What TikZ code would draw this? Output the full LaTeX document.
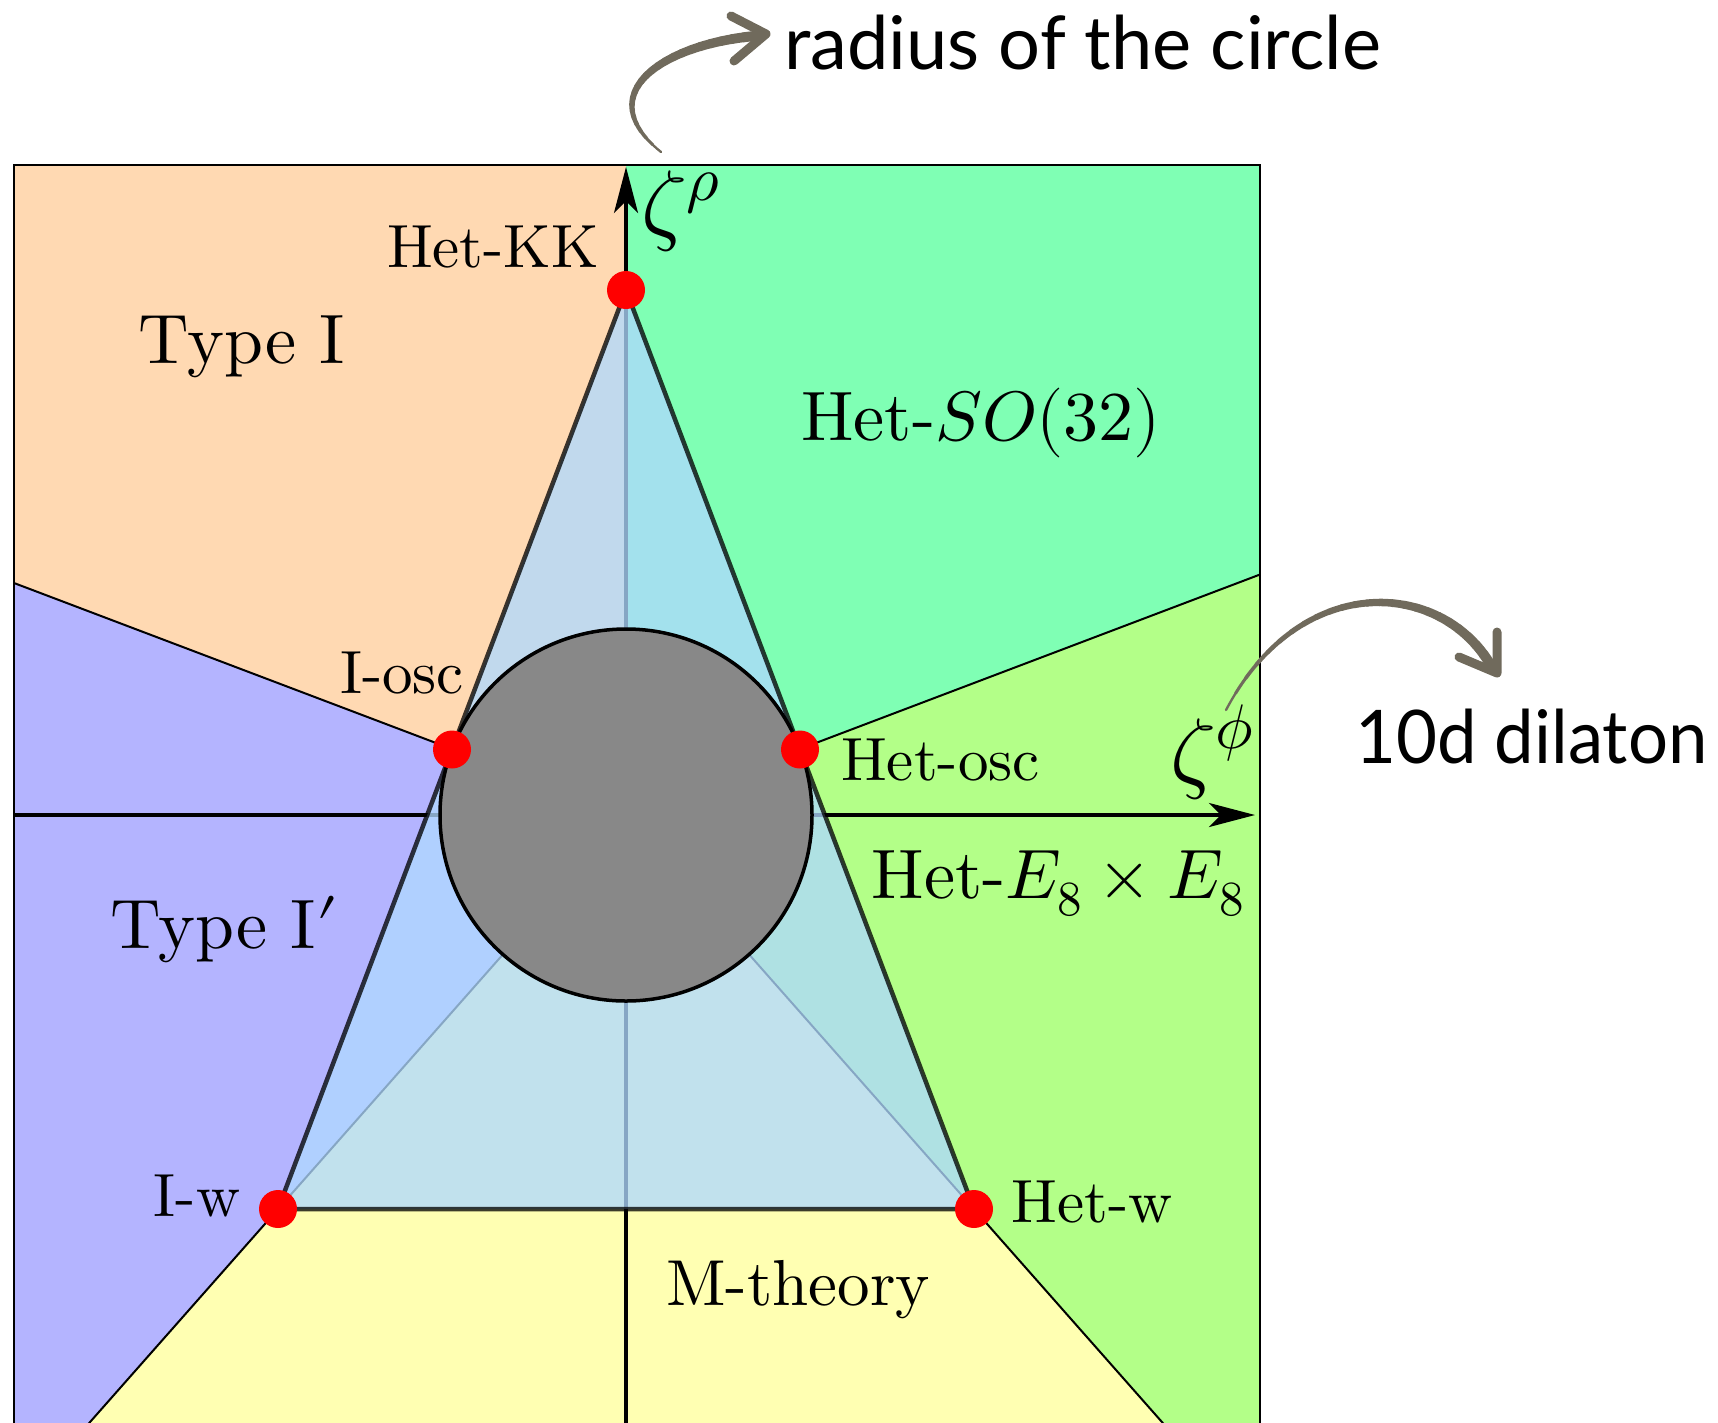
\documentclass[tikz,border=0pt]{standalone}
\usepackage{fontspec}
\usepackage{unicode-math}
\setmainfont{lmroman10-regular.otf}
\setmathfont{Latin Modern Math}
\newfontfamily\gillfont{Lato}
\usetikzlibrary{arrows.meta}
\definecolor{peach}{RGB}{255,217,178}
\definecolor{mint}{RGB}{127,255,180}
\definecolor{lav}{RGB}{180,180,255}
\definecolor{limegr}{RGB}{179,255,136}
\definecolor{lyel}{RGB}{255,255,178}
\definecolor{trifill}{RGB}{175,217,255}
\definecolor{brush}{RGB}{112,106,92}
\definecolor{circgray}{RGB}{136,136,136}
\newcommand\regfont{\fontsize{70}{84}\selectfont}
\newcommand\lblfont{\fontsize{61}{73}\selectfont}
\newcommand\mthfont{\fontsize{65}{78}\selectfont}
\newcommand\zetafont{\fontsize{90}{100}\selectfont}
\newcommand\notefont{\gillfont\fontsize{74}{88}\selectfont}
\newcommand\brushcurve[5]{%
  \foreach \i in {0,...,23}{%
    \pgfmathsetmacro\ta{\i/24}%
    \pgfmathsetmacro\tb{(\i+1)/24}%
    \pgfmathsetmacro\wd{#5*(0.1+0.9*(\tb)^0.6)}%
    \pgfsetlinewidth{\wd pt}%
    \pgfsetroundcap
    \pgfsetstrokecolor{brush}%
    \pgfpathcurvebetweentime{\ta}{\tb}{\pgfpointanchor{#1}{center}}{\pgfpointanchor{#2}{center}}{\pgfpointanchor{#3}{center}}{\pgfpointanchor{#4}{center}}%
    \pgfusepath{stroke}%
  }}
\begin{document}
\begin{tikzpicture}[x=1pt,y=-1pt,
  raybound/.style={line width=2pt},
  axisarrow/.style={line width=3.5pt,-{Stealth[length=46pt,width=24pt,inset=12pt]}},
  dot/.style={circle,fill=red,minimum size=38pt,inner sep=0pt},
  lbl/.style={inner sep=0pt,font=\lblfont},
  reglbl/.style={inner sep=0pt,font=\regfont},
  chevron/.style={draw=brush,line width=9pt,line cap=round,line join=round}]
\useasboundingbox (0,0) rectangle (1718,1422);
\clip (0,0) rectangle (1718,1422);
% key points
\coordinate (O) at (626,815);
\coordinate (K) at (626,290);
\coordinate (L) at (278,1209);
\coordinate (R) at (974,1209);
\coordinate (Lm) at (452,749.5);
\coordinate (Rm) at (800,749.5);
\coordinate (top) at (626,165);
\coordinate (TL) at (14,165);
\coordinate (TR) at (1260,165);
\coordinate (BL) at (14,1430);
\coordinate (BR) at (1260,1430);
\coordinate (eL) at (14,583);
\coordinate (eR) at (1260,574.5);
\coordinate (bL) at (83,1430);
\coordinate (bR) at (1169,1430);
\coordinate (bot) at (626,1430);
\coordinate (axL) at (14,815);
\coordinate (axR) at (1255,815);
\coordinate (axT) at (626,167);
% regions
\fill[peach] (O) -- (top) -- (TL) -- (eL) -- cycle;
\fill[mint] (O) -- (top) -- (TR) -- (eR) -- cycle;
\fill[lav] (O) -- (eL) -- (BL) -- (bL) -- cycle;
\fill[lyel] (O) -- (bL) -- (bR) -- cycle;
\fill[limegr] (O) -- (bR) -- (BR) -- (eR) -- cycle;
% boundaries
\draw[raybound] (O) -- (eL);
\draw[raybound] (O) -- (eR);
\draw[raybound] (O) -- (bL);
\draw[raybound] (O) -- (bR);
\draw[axisarrow] (bot) -- (axT);
\draw[axisarrow] (axL) -- (axR);
% triangle
\filldraw[fill=trifill,draw=black,line width=4.5pt,opacity=0.77,line join=round] (K) -- (L) -- (R) -- cycle;
% circle
\draw[fill=circgray,line width=3.5pt] (O) circle[radius=186];
% frame
\draw[line width=2.5pt] (BL) -- (TL) -- (TR) -- (BR);
% dots
\node[dot] (dK) at (K) {};
\node[dot] (dLm) at (Lm) {};
\node[dot] (dRm) at (Rm) {};
\node[dot] (dL) at (L) {};
\node[dot] (dR) at (R) {};
% labels
\node[lbl,anchor=base east] (tKK) at (599,267) {Het-KK};
\node[inner sep=0pt,anchor=base west,font=\zetafont] (zr) at (641,233) {$\zeta^\rho$};
\node[reglbl,anchor=base] (tI) at (242,363) {Type I};
\node[reglbl,anchor=base] (tSO) at (981,440) {Het-$SO(32)$};
\node[lbl,anchor=base] (tIosc) at (402,693) {I-osc};
\node[lbl,anchor=base west] (tHosc) at (841,780) {Het-osc};
\node[inner sep=0pt,anchor=base west,font=\zetafont] (zp) at (1170,781) {$\zeta^\phi$};
\node[reglbl,anchor=base] (tE8) at (1058,898) {Het-$E_8\times E_8$};
\node[reglbl,anchor=base] (tIp) at (224,948) {Type I$\prime$};
\node[lbl,anchor=base] (tIw) at (197,1216) {I-w};
\node[lbl,anchor=base] (tHw) at (1092,1222) {Het-w};
\node[inner sep=0pt,anchor=base,font=\mthfont] (tM) at (798,1305) {M-theory};
\node[inner sep=0pt,anchor=base west,font=\notefont] (tRad) at (784,69) {radius of the circle};
\node[inner sep=0pt,anchor=base west,font=\notefont] (tDil) at (1355,763) {\scalebox{0.955}[1]{10d dilaton}};
% brush arrows
\coordinate (a1s) at (661,152);
\coordinate (a1c) at (590,95);
\coordinate (a1d) at (660,45);
\coordinate (a1e) at (755,36);
\brushcurve{a1s}{a1c}{a1d}{a1e}{10}
\coordinate (h1a) at (731,16);
\coordinate (h1t) at (766,34);
\coordinate (h1b) at (734,61);
\draw[chevron] (h1a) -- (h1t) -- (h1b);
\coordinate (a2s) at (1226,710);
\coordinate (a2c) at (1300,570);
\coordinate (a2d) at (1440,580);
\coordinate (a2e) at (1490,664);
\brushcurve{a2s}{a2c}{a2d}{a2e}{10}
\coordinate (h2a) at (1497,632);
\coordinate (h2t) at (1497,673);
\coordinate (h2b) at (1459,657);
\draw[chevron] (h2a) -- (h2t) -- (h2b);
\end{tikzpicture}
\end{document}
